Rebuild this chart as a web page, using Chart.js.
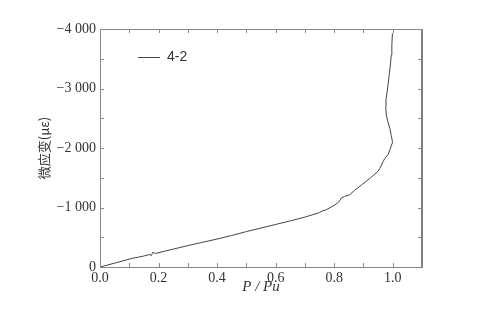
<!DOCTYPE html>
<html>
<head>
<meta charset="utf-8">
<script src="https://cdn.jsdelivr.net/npm/chart.js@4.4.0/dist/chart.umd.min.js"></script>
<style>
html, body { margin: 0; padding: 0; background: #fff; }
canvas { display: block; }
</style>
</head>
<body>
<canvas id="graficaDeformacion" width="477" height="320"></canvas>
<script>
// datos (P/Pu contra microdeformacion)
const serieNombre = '4-2';
const cargaRelativa = [0, 0.05, 0.11, 0.15, 0.17, 0.175, 0.18, 0.19, 0.25, 0.30, 0.35, 0.40, 0.45, 0.50, 0.55, 0.60, 0.65, 0.70, 0.75, 0.76, 0.77, 0.80, 0.815, 0.825, 0.835, 0.853, 0.87, 0.893, 0.922, 0.95, 0.956, 0.967, 0.973, 0.984, 0.99, 0.998, 0.999, 0.995, 0.99, 0.983, 0.978, 0.976, 0.977, 0.981, 0.984, 0.988, 0.992, 0.995, 0.997, 0.999];
const microDeformacion = [0, -65, -145, -185, -210, -190, -245, -228, -300, -360, -415, -470, -530, -595, -655, -715, -775, -838, -915, -945, -955, -1035, -1090, -1160, -1185, -1215, -1290, -1378, -1490, -1610, -1658, -1770, -1826, -1890, -1966, -2079, -2110, -2210, -2331, -2450, -2555, -2700, -2820, -2950, -3060, -3230, -3395, -3560, -3731, -3928];
const ticksX = [0, 0.2, 0.4, 0.6, 0.8, 1.0];
const ticksY = [0, -1000, -2000, -3000, -4000];

const puntos = cargaRelativa.map((p, i) => ({ x: p, y: microDeformacion[i] }));

function formatearMiles(v) {
    if (v === 0) return '0';
    const abs = Math.abs(v).toString();
    const txt = abs.length > 3 ? abs.slice(0, abs.length - 3) + ' ' + abs.slice(-3) : abs;
    return (v < 0 ? '\u2212' : '') + txt;
}

// marcas hacia adentro en los cuatro lados, con leyenda dentro del area
const marcoPlugin = {
    id: 'marco',
    afterDraw(chart) {
        const ctx = chart.ctx;
        const a = chart.chartArea;
        const sx = chart.scales.x;
        const sy = chart.scales.y;
        ctx.save();
        ctx.strokeStyle = '#8a8a8a';
        ctx.lineWidth = 1;
        ctx.beginPath();
        ctx.moveTo(a.left, a.top + 0.5);
        ctx.lineTo(a.right, a.top + 0.5);
        ctx.stroke();
        ctx.strokeStyle = '#555';
        ctx.lineWidth = 1.5;
        ctx.beginPath();
        ctx.moveTo(a.right, a.top);
        ctx.lineTo(a.right, a.bottom);
        ctx.stroke();
        ctx.strokeStyle = '#8a8a8a';
        ctx.lineWidth = 1;
        for (let i = 0; i <= 11; i++) {
            const px = Math.round(sx.getPixelForValue(i / 10)) + 0.5;
            ctx.beginPath();
            ctx.moveTo(px, a.bottom);
            ctx.lineTo(px, a.bottom - 4);
            ctx.moveTo(px, a.top);
            ctx.lineTo(px, a.top + 4);
            ctx.stroke();
        }
        for (let v = 0; v >= -4000; v -= 500) {
            const py = Math.round(sy.getPixelForValue(v)) + 0.5;
            ctx.beginPath();
            ctx.moveTo(a.left, py);
            ctx.lineTo(a.left + 4, py);
            ctx.moveTo(a.right, py);
            ctx.lineTo(a.right - 4, py);
            ctx.stroke();
        }
        // leyenda
        const ly = a.top + 28.5;
        ctx.strokeStyle = '#444';
        ctx.lineWidth = 1;
        ctx.beginPath();
        ctx.moveTo(a.left + 38, ly);
        ctx.lineTo(a.left + 60, ly);
        ctx.stroke();
        ctx.fillStyle = '#333';
        ctx.font = '14px "Liberation Sans", Arial, sans-serif';
        ctx.textBaseline = 'middle';
        ctx.fillText(serieNombre, a.left + 67, ly);
        ctx.restore();
    }
};

const ctx = document.getElementById('graficaDeformacion').getContext('2d');
const grafica = new Chart(ctx, {
    type: 'scatter',
    data: {
        datasets: [{
            label: serieNombre,
            data: puntos,
            showLine: true,
            borderColor: '#444',
            borderWidth: 1,
            pointRadius: 0,
            tension: 0
        }]
    },
    options: {
        responsive: false,
        animation: false,
        layout: { padding: { top: 29, right: 55, left: 0, bottom: 0 } },
        plugins: {
            legend: { display: false },
            tooltip: { enabled: false }
        },
        scales: {
            x: {
                type: 'linear',
                min: 0,
                max: 1.1,
                afterFit: s => { s.height = 53; },
                afterBuildTicks: s => { s.ticks = ticksX.map(v => ({ value: v })); },
                grid: { display: true, drawOnChartArea: false, drawTicks: false },
                border: { color: '#8a8a8a', width: 1 },
                ticks: {
                    padding: 3,
                    maxRotation: 0,
                    autoSkip: false,
                    color: '#333',
                    font: { family: '"Liberation Serif", serif', size: 14 },
                    callback: v => v.toFixed(1)
                },
                title: {
                    display: true,
                    text: 'P / Pu',
                    color: '#333',
                    padding: { top: 0, bottom: 24 },
                    font: { family: '"Liberation Serif", serif', size: 15, style: 'italic' }
                }
            },
            y: {
                type: 'linear',
                min: -4000,
                max: 0,
                reverse: true,
                afterFit: s => { s.width = 100; },
                afterBuildTicks: s => { s.ticks = ticksY.map(v => ({ value: v })); },
                grid: { display: true, drawOnChartArea: false, drawTicks: false },
                border: { color: '#8a8a8a', width: 1 },
                ticks: {
                    padding: 4,
                    autoSkip: false,
                    color: '#333',
                    font: { family: '"Liberation Serif", serif', size: 14 },
                    callback: v => formatearMiles(v)
                },
                title: {
                    display: true,
                    text: '微应变(με)',
                    color: '#333',
                    padding: { top: 36, bottom: 0 },
                    font: { family: '"Noto Sans CJK SC", serif', size: 13 }
                }
            }
        }
    },
    plugins: [marcoPlugin]
});
</script>
</body>
</html>
